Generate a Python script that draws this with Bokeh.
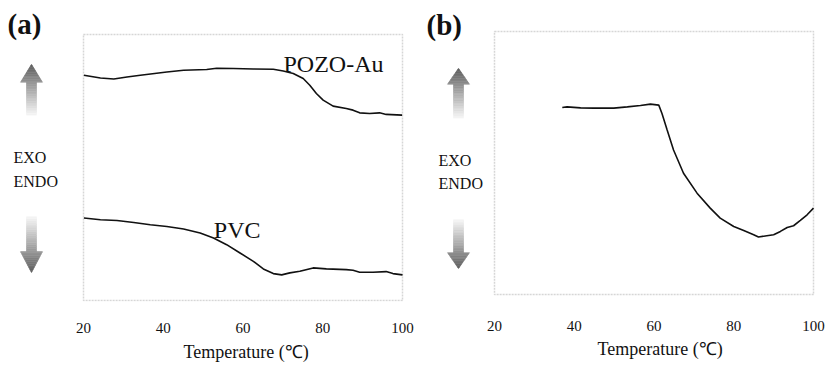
from bokeh.plotting import figure
from bokeh.layouts import row
from bokeh.models import Label, BoxAnnotation, FixedTicker, Range1d, Title
from bokeh.embed import file_html
from bokeh.resources import INLINE

# ---------------- data ----------------
# panel (a): DSC traces (heat flow, arbitrary units)
pozo_t = [20.1, 24.25, 27.6, 30.9, 34.25, 40.9, 45.1, 50.9, 53.4, 57.6, 62.6, 67.6,
          70.1, 72.6, 75.1, 76.75, 78.4, 80.1, 82.6, 85.9, 87.6, 89.25, 91.75, 94.25, 95.9, 99.9]
pozo_hf = [226, 223.3, 222.3, 224.3, 226, 229.3, 231, 231.7, 233, 232.7, 232.3, 232,
           230.3, 227.7, 222.7, 216, 207.7, 201, 195, 192.7, 191, 188.3, 187.7, 188.3, 186.7, 186]
pvc_t = [20.1, 24.25, 28.4, 32.6, 36.75, 40.9, 45.1, 49.25, 52.6, 55.9, 59.25, 62.6, 65.1,
         67.6, 69.7, 71.75, 74.25, 77.6, 80.9, 85.9, 87.6, 89.25, 92.6, 95.9, 97.6, 100]
pvc_hf = [82.7, 81, 80.3, 78.3, 76, 74.3, 71.7, 67.7, 62.7, 56, 47.7, 39.3, 31.7,
          27, 25.7, 27.7, 29.3, 32.7, 31.7, 31, 30.3, 28.3, 28.3, 29, 27, 25.7]
# panel (b)
b_t = [37.0, 38.2, 41.6, 44.9, 49.9, 53.3, 56.6, 59.1, 61.2, 62.0, 63.3, 64.9, 67.4, 70.8,
       74.1, 76.6, 80.0, 82.5, 85.0, 86.2, 88.3, 90.0, 91.7, 93.4, 95.0, 96.7, 98.4, 100.0]
b_hf = [187.7, 188.3, 187.3, 187, 187, 188.3, 189.7, 191, 190, 181.7, 165, 145, 121.7, 101.7,
        86.7, 76.7, 68.3, 64.3, 60, 57.7, 59, 60, 63.3, 67.3, 69, 74.3, 80, 86.7]
x_ticks = [20, 40, 60, 80, 100]
x_title = "Temperature (\u2103)"
panel_tags = ["(a)", "(b)"]
series_names = ["POZO-Au", "PVC"]

SERIF = "Liberation Serif"
INK = "#111111"
PX_PER_DEG = 319 / 80.0
FRAME_BOTTOM = 302          # frame bottom (canvas px)
HEIGHT = 365


def lerp_color(c0, c1, f):
    r = [int(round(a + (b - a) * f)) for a, b in zip(c0, c1)]
    return "#%02x%02x%02x" % tuple(r)


class Panel:
    def __init__(self, width, page_x0, box_left, box_bottom, box_top, tick_standoff,
                 title_left, title_standoff):
        self.page_x0 = page_x0
        self.box_left = box_left      # page px of temperature 20
        self.box_bottom = box_bottom  # page px of heat flow 0
        x0 = 20 - (box_left - page_x0) / PX_PER_DEG
        x1 = 20 + (page_x0 + width - box_left) / PX_PER_DEG
        p = figure(width=width, height=HEIGHT, x_range=Range1d(x0, x1),
                   y_range=Range1d(box_bottom - FRAME_BOTTOM, box_bottom),
                   y_axis_location=None, output_backend="svg", toolbar_location=None,
                   min_border_left=0, min_border_right=0, min_border_top=0,
                   min_border_bottom=HEIGHT - FRAME_BOTTOM)
        p.outline_line_color = None
        p.grid.grid_line_color = None
        ax = p.xaxis[0]
        ax.ticker = FixedTicker(ticks=x_ticks)
        ax.axis_line_color = None
        ax.major_tick_line_color = None
        ax.minor_tick_line_color = None
        ax.major_tick_out = 0
        ax.major_tick_in = 0
        ax.major_label_standoff = tick_standoff
        ax.major_label_text_font = SERIF
        ax.major_label_text_font_size = "15px"
        ax.major_label_text_color = INK
        p.add_layout(Title(text=x_title, align="left", offset=title_left - page_x0,
                           standoff=title_standoff, text_font=SERIF, text_font_size="18px",
                           text_font_style="normal", text_color=INK), "below")
        p.add_layout(BoxAnnotation(left=20, right=100, bottom=0, top=box_bottom - box_top,
                                   fill_alpha=0, line_color="#767676", line_dash="2 1",
                                   line_width=1.5, level="underlay"))
        self.p = p

    def X(self, px):
        return 20 + (px - self.box_left) / PX_PER_DEG

    def Y(self, py):
        return self.box_bottom - py

    def text(self, px, py, txt, size, bold=False, baseline="middle"):
        self.p.add_layout(Label(x=self.X(px), y=self.Y(py), text=txt, text_font=SERIF,
                                text_font_size=size, text_baseline=baseline,
                                text_font_style="bold" if bold else "normal",
                                text_color=INK))

    def arrow(self, cx, y_tip, y_base, y_tail, head_hw=11, shaft_hw=5, n=30):
        dark, light = (92, 92, 92), (246, 246, 246)
        step = (y_tail - y_tip) / n
        lo_h, hi_h = sorted([y_tip, y_base])
        xs_all, ys_all, cols = [], [], []
        for i in range(n):
            ya = y_tip + step * i
            yb = y_tip + step * (i + 1)
            lo, hi = sorted([ya, yb])
            segs = [(ya, y_base), (y_base, yb)] if lo < y_base < hi else [(ya, yb)]
            col = lerp_color(dark, light, (i + 0.5) / n)
            for y0, y1 in segs:
                mid = (y0 + y1) / 2
                inhead = lo_h <= mid <= hi_h
                w0 = head_hw * (y0 - y_tip) / (y_base - y_tip) if inhead else shaft_hw
                w1 = head_hw * (y1 - y_tip) / (y_base - y_tip) if inhead else shaft_hw
                xs_all.append([self.X(cx - w0), self.X(cx + w0), self.X(cx + w1), self.X(cx - w1)])
                ys_all.append([self.Y(y0), self.Y(y0), self.Y(y1), self.Y(y1)])
                cols.append(col)
        self.p.patches(xs_all, ys_all, fill_color=cols, line_color=cols, line_width=0.6)


# ---- panel (a): box 83..402 x 34..301 (page px)
A = Panel(420, 0, 83, 301, 34, tick_standoff=21, title_left=183, title_standoff=8)
A.p.line(pozo_t, pozo_hf, line_color=INK, line_width=1.6)
A.p.line(pvc_t, pvc_hf, line_color=INK, line_width=1.6)
A.text(283, 63.3, series_names[0], "24px", baseline="alphabetic")
A.text(213.3, 230, series_names[1], "24px", baseline="alphabetic")
A.text(7, 24, panel_tags[0], "29px", bold=True)
A.text(13, 158, "EXO", "16px")
A.text(13, 182, "ENDO", "16px")
A.arrow(31, 64, 82, 115)
A.arrow(31, 273, 252, 217)

# ---- panel (b): box 494..813 x 31..295 (page px)
B = Panel(405, 420, 494, 295, 31, tick_standoff=19, title_left=597, title_standoff=6)
B.p.line(b_t, b_hf, line_color=INK, line_width=1.6)
B.text(426, 25, panel_tags[1], "29px", bold=True)
B.text(438, 161, "EXO", "16px")
B.text(438, 184, "ENDO", "16px")
B.arrow(458, 68, 84, 118)
B.arrow(458, 269, 253, 220)

layout = row(A.p, B.p)
open("out.html", "w").write(file_html(layout, INLINE))
